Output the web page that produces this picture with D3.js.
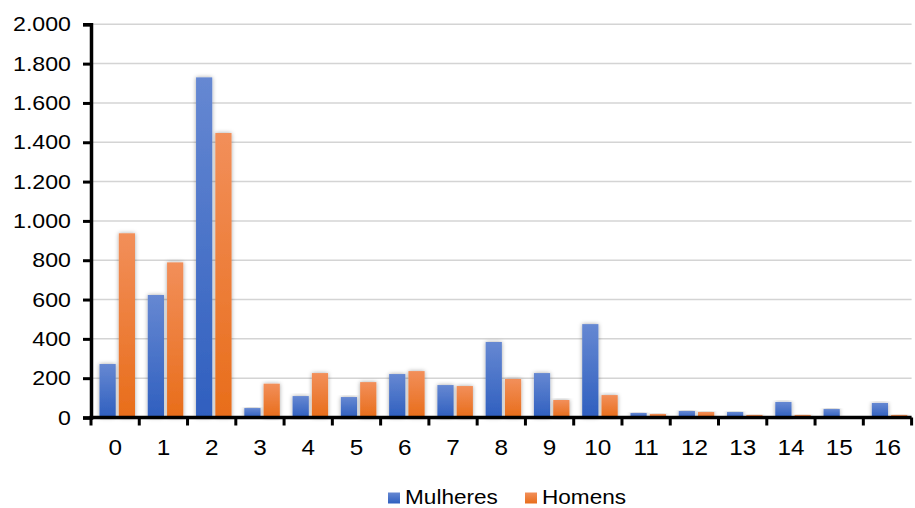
<!DOCTYPE html>
<html>
<head>
<meta charset="utf-8">
<script src="https://cdn.jsdelivr.net/npm/d3@7/dist/d3.min.js"></script>
<style>
  html, body { margin: 0; padding: 0; background: #fff; }
  svg { display: block; }
  text { font-family: "Liberation Sans", Arial, sans-serif; fill: #000; }
</style>
</head>
<body>
<svg id="chart" width="915" height="508"></svg>
<script>
const categories = ["0","1","2","3","4","5","6","7","8","9","10","11","12","13","14","15","16"];
const seriesNames = ["Mulheres", "Homens"];
const mulheres = [272, 623, 1730, 48, 109, 104, 221, 165, 384, 226, 475, 23, 33, 28, 79, 43, 74];
const homens   = [937, 789, 1447, 172, 226, 180, 236, 160, 196, 89, 114, 18, 28, 13, 13, 0, 13];
const yTicks = [0, 200, 400, 600, 800, 1000, 1200, 1400, 1600, 1800, 2000];
const yMax = 2000;

(function () {
const svg = d3.select("#chart");
const mLeft = 91, mRight = 911.6, mTop = 24.3, mBottom = 417.5;
const stretch = 1.13;

const defs = svg.append("defs");
const grads = [
  {id: "gBlue", c1: "#6688d2", c2: "#2f5fbf"},
  {id: "gOrange", c1: "#f28f5a", c2: "#e86d1a"}
];
grads.forEach(g => {
  const lg = defs.append("linearGradient").attr("id", g.id)
    .attr("x1", 0).attr("y1", 0).attr("x2", 0).attr("y2", 1);
  lg.append("stop").attr("offset", "0%").attr("stop-color", g.c1);
  lg.append("stop").attr("offset", "100%").attr("stop-color", g.c2);
});
const f = defs.append("filter").attr("id", "shadow")
  .attr("x", "-50%").attr("y", "-10%").attr("width", "200%").attr("height", "120%");
f.append("feDropShadow").attr("dx", 0).attr("dy", 0).attr("stdDeviation", 2)
  .attr("flood-color", "#000").attr("flood-opacity", 0.35);

const y = d3.scaleLinear().domain([0, yMax]).range([mBottom, mTop]);
const x0 = d3.scaleBand().domain(categories).range([mLeft, mRight]).paddingInner(0).paddingOuter(0);
const x1 = d3.scaleBand().domain(seriesNames).range([8.5, 44]).paddingInner(0.16);

// gridlines
svg.append("g").selectAll("line").data(yTicks.filter(d => d > 0)).join("line")
  .attr("x1", mLeft).attr("x2", mRight)
  .attr("y1", d => y(d)).attr("y2", d => y(d))
  .attr("stroke", "#d4d4d4").attr("stroke-width", 1.5);

// bars
const data = categories.map((c, i) => ({c, vals: [mulheres[i], homens[i]]}));
const g = svg.append("g");
data.forEach(d => {
  d.vals.forEach((v, j) => {
    if (v <= 0) return;
    g.append("rect")
      .attr("x", x0(d.c) + x1(seriesNames[j]))
      .attr("width", x1.bandwidth())
      .attr("y", y(v))
      .attr("height", y(0) - y(v))
      .attr("fill", j === 0 ? "url(#gBlue)" : "url(#gOrange)")
      .attr("filter", "url(#shadow)");
  });
});

// y axis
const yAxis = d3.axisLeft(y).tickValues(yTicks).tickSize(8).tickPadding(12)
  .tickFormat(d => d3.format(",")(d).replace(/,/g, "."));
const ya = svg.append("g").attr("transform", `translate(${mLeft},0)`).call(yAxis);
ya.select(".domain").attr("stroke", "#000").attr("stroke-width", 3.5);
ya.selectAll(".tick line").attr("stroke", "#000").attr("stroke-width", 3);
ya.selectAll(".tick text").attr("font-size", 20.5).attr("fill", "#000")
  .attr("font-family", "'Liberation Sans', Arial, sans-serif")
  .attr("x", 0)
  .attr("transform", `translate(-20,0) scale(${stretch},1)`);

// x axis: ticks at boundaries
const xa = svg.append("g").attr("transform", `translate(0,${mBottom})`);
xa.append("line").attr("x1", mLeft - 1.5).attr("x2", mRight).attr("y1", 0).attr("y2", 0)
  .attr("stroke", "#000").attr("stroke-width", 3.5);
const bounds = categories.map(c => x0(c)).concat([x0(categories[categories.length-1]) + x0.bandwidth()]);
xa.selectAll("line.t").data(bounds).join("line").attr("class", "t")
  .attr("x1", d => d).attr("x2", d => d).attr("y1", 0).attr("y2", 8)
  .attr("stroke", "#000").attr("stroke-width", 3);
xa.selectAll("text").data(categories).join("text")
  .attr("transform", d => `translate(${x0(d) + x0.bandwidth() / 2},37) scale(${stretch},1)`)
  .attr("text-anchor", "middle")
  .attr("font-size", 21.5)
  .text(d => d);

// legend
const legend = svg.append("g");
const legItems = [
  {name: seriesNames[0], fill: "url(#gBlue)", x: 388},
  {name: seriesNames[1], fill: "url(#gOrange)", x: 525}
];
legItems.forEach(it => {
  legend.append("rect").attr("x", it.x).attr("y", 492.5).attr("width", 12).attr("height", 11)
    .attr("fill", it.fill);
  legend.append("text")
    .attr("transform", `translate(${it.x + 17},503.5) scale(${stretch},1)`)
    .attr("font-size", 20).text(it.name);
});
})();
</script>
</body>
</html>
